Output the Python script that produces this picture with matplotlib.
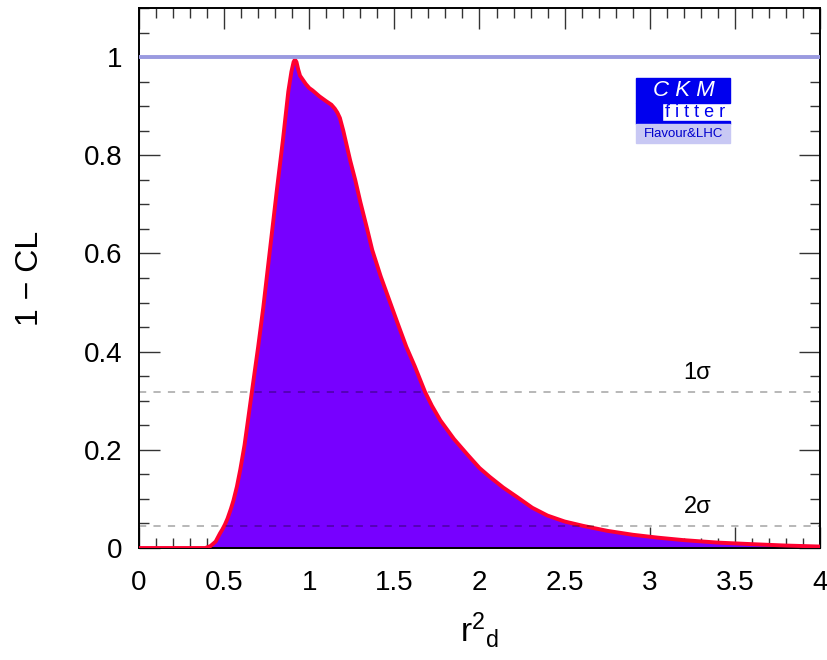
import matplotlib
matplotlib.use("Agg")
import matplotlib.pyplot as plt
from matplotlib.patches import Rectangle
from matplotlib.ticker import MultipleLocator
from matplotlib import font_manager

# ---- data ----
r2d = [0.0, 0.39, 0.42, 0.45, 0.476, 0.49, 0.505, 0.52, 0.54, 0.555, 0.575, 0.595,
       0.62, 0.64, 0.663, 0.70, 0.73, 0.77, 0.81, 0.845, 0.877, 0.895, 0.908, 0.916,
       0.925, 0.935, 0.946, 0.96, 0.98, 1.0, 1.02, 1.06, 1.10, 1.13, 1.15, 1.165,
       1.18, 1.20, 1.22, 1.24, 1.27, 1.30, 1.34, 1.37, 1.42, 1.47, 1.52, 1.57, 1.62,
       1.68, 1.72, 1.77, 1.85, 1.93, 2.0, 2.06, 2.14, 2.22, 2.31, 2.40, 2.50, 2.61,
       2.75, 2.90, 3.05, 3.20, 3.40, 3.59, 3.80, 4.0]
one_minus_cl = [0.0, 0.0, 0.004, 0.013, 0.03, 0.038, 0.048, 0.06, 0.08, 0.097, 0.125,
                0.16, 0.21, 0.26, 0.318, 0.41, 0.49, 0.61, 0.73, 0.83, 0.93, 0.97, 0.99,
                0.995, 0.99, 0.975, 0.962, 0.955, 0.945, 0.937, 0.932, 0.92, 0.91, 0.903,
                0.895, 0.887, 0.876, 0.85, 0.82, 0.79, 0.75, 0.705, 0.65, 0.607, 0.553,
                0.505, 0.457, 0.41, 0.37, 0.318, 0.29, 0.26, 0.222, 0.19, 0.163, 0.145,
                0.123, 0.104, 0.082, 0.066, 0.054, 0.045, 0.035, 0.027, 0.021, 0.016,
                0.011, 0.008, 0.005, 0.003]
sigma_levels = [0.3173, 0.0455]
sigma_labels = ["1σ", "2σ"]
x_ticks = [0, 0.5, 1, 1.5, 2, 2.5, 3, 3.5, 4]
x_ticklabels = ["0", "0.5", "1", "1.5", "2", "2.5", "3", "3.5", "4"]
y_ticks = [0, 0.2, 0.4, 0.6, 0.8, 1.0]
y_ticklabels = ["0", "0.2", "0.4", "0.6", "0.8", "1"]

names = {f.name for f in font_manager.fontManager.ttflist}
base = "Liberation Sans" if "Liberation Sans" in names else "DejaVu Sans"
narrow = "Liberation Sans Narrow" if "Liberation Sans Narrow" in names else base
plt.rcParams["font.family"] = [base, "DejaVu Sans"]
plt.rcParams["mathtext.fontset"] = "custom"
plt.rcParams["mathtext.rm"] = base
plt.rcParams["mathtext.it"] = base

fig = plt.figure(figsize=(8.28, 6.6), dpi=100)
ax = fig.add_axes([139/828, 1-548/660, (820-139)/828, (548-8)/660])

ax.fill_between(r2d, one_minus_cl, 0, color="#7700ff", lw=0, zorder=2)
ax.plot(r2d, one_minus_cl, color="#ff0030", lw=2.8, zorder=3,
        solid_joinstyle="round", solid_capstyle="round")
ax.axhline(1.0, color="#9a9ae0", lw=2.8, zorder=4)
for lev, lab in zip(sigma_levels, sigma_labels):
    ax.axhline(lev, color="black", alpha=0.3, lw=1.3, dashes=(4, 4), zorder=5)
    ax.text(3.28, lev + 0.016, lab, fontsize=17, ha="center", va="bottom", zorder=6)

ax.set_xlim(0, 4)
ax.set_ylim(0, 1.1)
ax.set_xticks(x_ticks)
ax.set_xticklabels(x_ticklabels, fontfamily=narrow, fontsize=20)
ax.set_yticks(y_ticks)
ax.set_yticklabels(y_ticklabels, fontsize=20)
ax.xaxis.set_minor_locator(MultipleLocator(0.1))
ax.yaxis.set_minor_locator(MultipleLocator(0.05))
ax.tick_params(which="both", direction="in", top=True, right=True, width=1.0, color="#333333")
ax.tick_params(which="major", length=15)
ax.tick_params(which="minor", length=7)
ax.tick_params(axis="x", which="major", pad=16)
ax.tick_params(axis="y", which="major", pad=12)
for s in ax.spines.values():
    s.set_linewidth(1.4)

ax.set_ylabel("1 − CL", fontsize=23, labelpad=28)
ax.set_xlabel(r"$\mathrm{r}^{2}{}_{\mathrm{d}}$", fontsize=24, labelpad=10)

# ---- CKMfitter logo (axes fraction) ----
tr = ax.transAxes
x0, x1 = 0.730, 0.8675
ax.add_patch(Rectangle((x0, 0.824), x1 - x0, 0.046, transform=tr, color="#0000ee", zorder=7))
ax.add_patch(Rectangle((x0, 0.790), 0.038, 0.034, transform=tr, color="#0000ee", zorder=7))
ax.add_patch(Rectangle((x0, 0.786), x1 - x0, 0.004, transform=tr, color="#0000ee", zorder=7))
ax.add_patch(Rectangle((x0, 0.750), x1 - x0, 0.035, transform=tr, color="#c8c8f4", zorder=7))
ax.text(0.800, 0.847, "C K M", transform=tr, color="white", fontsize=16, style="italic",
        ha="center", va="center", zorder=8)
ax.text(0.817, 0.806, "f i t t e r", transform=tr, color="#0000ee", fontsize=13,
        ha="center", va="center", zorder=8)
ax.text(0.799, 0.767, "Flavour&LHC", transform=tr, color="#0000cc", fontsize=9.5,
        ha="center", va="center", zorder=8, fontfamily=narrow)

fig.savefig("out.png", dpi=100)
